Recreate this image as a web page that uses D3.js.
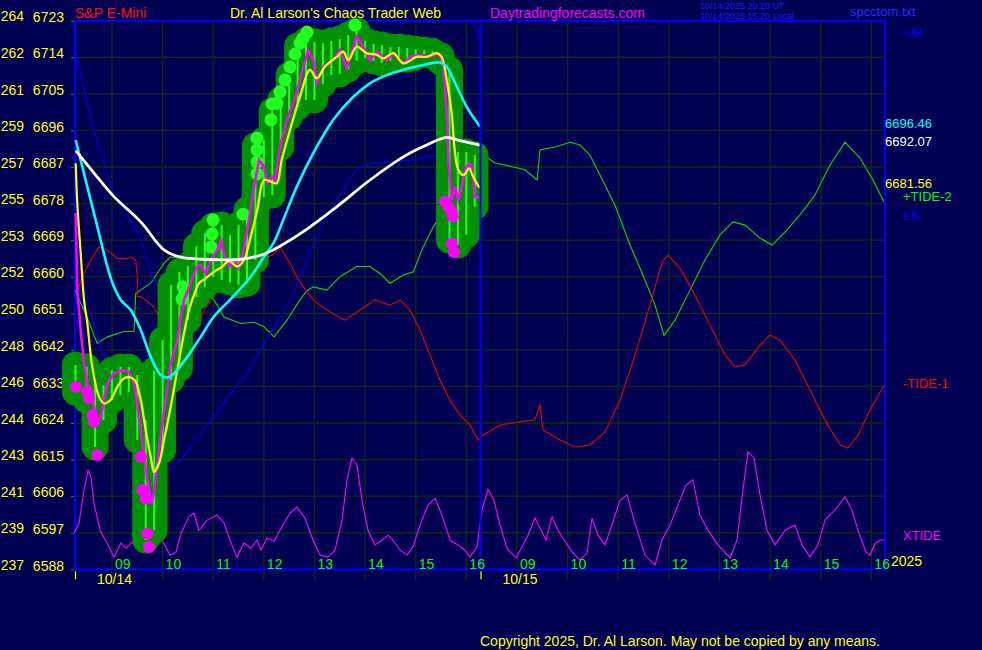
<!DOCTYPE html>
<html><head><meta charset="utf-8">
<script src="https://cdn.jsdelivr.net/npm/d3@7"></script>
<style>
html,body{margin:0;padding:0;background:#000052;overflow:hidden}
svg{display:block}
text{font-family:"Liberation Sans",Arial,sans-serif}
</style>
</head><body>
<svg id="c" width="982" height="650"></svg>
<script>
// ---------- DATA ----------
const priceTicks = [6723,6714,6705,6696,6687,6678,6669,6660,6651,6642,6633,6624,6615,6606,6597,6588];
const spyTicks   = [264,262,261,259,257,255,253,252,250,248,246,244,243,241,239,237];
const hourLabels = ["09","10","11","12","13","14","15","16"];
const hourValues = [9,10,11,12,13,14,15,16];
const dayLabels  = ["10/14","10/15"];
const dayStarts  = [0.02, 8.03];   // session hours (0 = 08:15 on 10/14)
const sessionOpen = 8.25;          // clock hour at start of each session
const sessionLen  = 8;

// price bars: [t, high, low]
const bars = [[0.03,6638.3,6631.6],[0.25,6637.8,6629.6],[0.417,6634.6,6618.1],[0.583,6633.3,6624.7],[0.75,6637.0,6629.6],[0.917,6637.8,6630.9],[1.083,6637.8,6631.6],[1.25,6635.8,6619.8],[1.417,6624.7,6595.2],[1.583,6636.9,6597.6],[1.75,6644.4,6617.3],[1.917,6658.0,6634.6],[2.083,6661.2,6637.5],[2.25,6662.7,6649.3],[2.417,6667.5,6655.0],[2.583,6670.7,6657.5],[2.75,6672.5,6659.9],[2.917,6672.7,6659.2],[3.083,6670.3,6658.7],[3.25,6672.7,6658.0],[3.417,6676.4,6658.4],[3.583,6692.2,6664.1],[3.75,6693.6,6679.6],[3.917,6700.8,6680.1],[4.083,6703.5,6691.9],[4.25,6709.6,6699.3],[4.417,6716.8,6701.8],[4.583,6718.0,6703.5],[4.75,6717.8,6703.5],[4.917,6717.5,6707.4],[5.083,6718.0,6709.6],[5.25,6718.5,6709.9],[5.417,6719.5,6711.1],[5.583,6720.5,6713.1],[5.75,6718.0,6713.8],[5.917,6717.3,6713.1],[6.083,6717.0,6712.6],[6.25,6716.5,6713.1],[6.417,6716.5,6713.6],[6.583,6716.3,6713.6],[6.75,6716.0,6714.1],[6.917,6715.8,6714.8],[7.083,6715.5,6714.3],[7.25,6714.3,6712.8],[7.417,6710.9,6669.0],[7.583,6690.7,6667.8],[7.75,6690.7,6670.3],[7.917,6690.0,6677.2]];

const highDots = [[2.153,6657.5],[2.133,6654.5],[2.746,6674.0],[2.726,6670.5],[2.706,6667.3],[3.338,6675.4],[3.615,6694.1],[3.615,6691.2],[3.615,6688.2],[3.615,6685.3],[3.891,6698.6],[3.911,6702.5],[4.01,6702.7],[4.069,6705.5],[4.168,6708.4],[4.267,6711.6],[4.365,6714.8],[4.464,6717.5],[4.523,6718.7],[4.602,6720.2],[5.551,6721.9]];

const lowDots = [[0.034,6632.9],[0.263,6631.7],[0.296,6630.1],[0.361,6626.0],[0.395,6624.3],[0.46,6616.1],[1.318,6615.7],[1.349,6607.5],[1.416,6605.4],[1.448,6596.8],[1.481,6593.5],[7.328,6678.5],[7.394,6677.2],[7.461,6676.0],[7.48,6674.8],[7.461,6668.2],[7.506,6666.1]];

const closeLine = [[0.034,6675.7],[0.065,6656.7],[0.132,6646.9],[0.198,6638.8],[0.263,6633.8],[0.395,6628.0],[0.46,6623.9],[0.527,6625.5],[0.658,6633.8],[0.79,6636.2],[0.954,6637.0],[1.086,6636.6],[1.185,6633.8],[1.284,6625.5],[1.349,6619.0],[1.416,6612.4],[1.481,6607.5],[1.527,6604.2],[1.58,6606.7],[1.645,6614.1],[1.744,6623.9],[1.843,6632.1],[1.91,6638.7],[2.04,6644.4],[2.108,6650.2],[2.173,6654.3],[2.272,6657.2],[2.337,6660.0],[2.435,6662.5],[2.503,6662.9],[2.601,6660.8],[2.7,6664.1],[2.83,6666.6],[2.898,6669.0],[2.963,6665.8],[3.062,6662.5],[3.16,6664.1],[3.259,6662.1],[3.358,6667.4],[3.457,6674.0],[3.556,6682.1],[3.654,6688.7],[3.753,6687.1],[3.818,6683.0],[3.917,6684.6],[3.97,6683.8],[4.069,6692.0],[4.202,6698.6],[4.399,6705.1],[4.53,6711.7],[4.628,6715.8],[4.727,6713.3],[4.794,6707.6],[4.925,6711.7],[5.122,6713.3],[5.254,6715.8],[5.386,6711.3],[5.517,6716.6],[5.584,6719.1],[5.714,6716.6],[5.847,6713.3],[5.979,6715.4],[6.177,6713.3],[6.307,6715.0],[6.505,6712.5],[6.637,6714.1],[6.835,6714.6],[7.032,6714.1],[7.196,6715.0],[7.294,6712.5],[7.362,6700.2],[7.394,6688.7],[7.461,6678.9],[7.526,6682.1],[7.591,6678.9],[7.659,6682.1],[7.724,6686.3],[7.808,6687.9],[7.856,6687.1],[7.921,6679.7],[8.02,6679.3]];

const fastLine = [[0.034,6687.9],[0.065,6678.1],[0.132,6665.8],[0.198,6654.3],[0.263,6648.6],[0.361,6637.8],[0.494,6630.5],[0.593,6628.8],[0.725,6629.7],[0.855,6632.9],[0.988,6635.0],[1.12,6635.2],[1.219,6634.2],[1.318,6629.7],[1.416,6622.3],[1.515,6615.7],[1.58,6612.0],[1.679,6614.1],[1.778,6619.8],[1.91,6628.0],[2.04,6637.0],[2.173,6646.1],[2.272,6651.8],[2.37,6655.5],[2.469,6658.4],[2.601,6659.6],[2.765,6661.2],[2.929,6662.5],[3.062,6663.9],[3.226,6662.5],[3.358,6664.1],[3.49,6669.8],[3.621,6676.4],[3.753,6683.8],[3.886,6683.4],[4.004,6683.0],[4.103,6688.7],[4.267,6696.1],[4.464,6704.3],[4.662,6710.9],[4.794,6708.8],[4.958,6711.7],[5.189,6714.1],[5.319,6715.4],[5.418,6713.3],[5.584,6716.6],[5.782,6715.0],[5.979,6714.6],[6.11,6713.7],[6.307,6715.0],[6.505,6712.5],[6.769,6714.1],[6.967,6714.1],[7.164,6715.0],[7.263,6714.1],[7.362,6708.4],[7.461,6700.2],[7.526,6690.4],[7.591,6686.3],[7.69,6685.0],[7.808,6686.7],[7.856,6685.4],[7.954,6683.0],[8.02,6681.8]];

const cyanMA = [[0.034,6693.6],[0.132,6688.7],[0.263,6682.1],[0.395,6675.6],[0.527,6669.0],[0.658,6662.5],[0.79,6657.5],[0.922,6654.3],[1.12,6651.8],[1.318,6646.9],[1.515,6640.3],[1.713,6635.8],[1.843,6635.2],[1.975,6636.2],[2.238,6640.3],[2.503,6645.2],[2.765,6650.2],[3.095,6654.5],[3.49,6660.0],[3.753,6664.9],[3.951,6668.5],[4.134,6674.0],[4.399,6682.1],[4.727,6690.4],[5.122,6698.6],[5.517,6704.3],[5.847,6707.6],[6.177,6709.6],[6.505,6710.9],[6.835,6711.9],[7.23,6712.7],[7.362,6711.7],[7.56,6706.8],[7.757,6701.8],[8.02,6696.9]];

const whiteMA = [[0.034,6691.0],[0.395,6685.5],[0.79,6679.7],[1.318,6673.5],[1.778,6666.6],[2.108,6664.8],[2.568,6664.3],[3.293,6664.3],[3.688,6665.3],[3.951,6666.7],[4.134,6668.0],[4.53,6671.1],[5.189,6677.2],[5.847,6683.8],[6.505,6689.5],[6.967,6692.4],[7.362,6694.3],[7.625,6693.5],[8.02,6692.4]];

const upperBand = [[0.034,6715.8],[0.132,6710.1],[0.263,6702.7],[0.395,6696.1],[0.527,6690.4],[0.658,6685.4],[0.79,6680.5],[0.988,6676.4],[1.185,6672.3],[1.318,6669.0],[1.448,6664.1],[1.58,6659.2],[1.738,6657.5],[1.936,6657.5],[2.173,6658.4],[2.489,6665.3],[2.898,6675.7],[3.22,6678.1],[3.674,6688.7],[4.267,6705.9],[4.86,6718.2],[5.254,6724.4],[5.847,6727.6],[6.835,6728.1],[7.625,6726.9],[7.822,6723.2],[8.02,6719.5]];

const lowerBand = [[0.04,6670.2],[0.158,6661.6],[0.263,6653.4],[0.395,6648.6],[0.527,6642.8],[0.909,6629.6],[1.304,6619.8],[1.6,6614.4],[1.843,6612.4],[2.108,6614.9],[2.436,6620.6],[2.765,6625.5],[3.095,6631.3],[3.423,6636.2],[3.688,6642.0],[3.886,6646.1],[4.333,6655.9],[4.662,6665.7],[4.992,6674.8],[5.32,6681.3],[5.584,6686.3],[5.912,6687.9],[6.307,6688.3],[6.637,6688.7],[6.967,6689.5],[7.164,6689.9],[7.625,6691.2],[8.02,6691.7]];

const tide2 = [[0.02,6656.7],[0.237,6650.6],[0.46,6643.6],[0.658,6645.2],[0.988,6646.5],[1.185,6646.5],[1.219,6655.9],[1.515,6658.4],[1.645,6660.8],[1.778,6663.3],[1.91,6664.9],[2.04,6664.5],[2.173,6663.7],[2.489,6657.9],[2.765,6654.3],[2.963,6650.1],[3.293,6648.5],[3.556,6648.8],[3.753,6647.7],[3.951,6645.2],[4.207,6649.3],[4.464,6654.3],[4.596,6656.5],[4.727,6657.5],[4.992,6656.7],[5.254,6660.0],[5.584,6662.5],[5.847,6662.5],[6.044,6660.8],[6.242,6658.4],[6.505,6660.4],[6.702,6661.2],[6.9,6667.4],[7.097,6672.3],[7.295,6676.0],[7.625,6683.8],[7.862,6689.5],[8.079,6690.0],[8.316,6688.0],[8.612,6687.2],[8.909,6686.3],[9.146,6683.8],[9.205,6691.2],[9.501,6691.9],[9.798,6693.1],[9.995,6692.4],[10.193,6689.9],[10.39,6685.0],[10.687,6677.6],[10.983,6667.8],[11.279,6659.2],[11.477,6653.0],[11.654,6645.6],[11.872,6649.3],[12.168,6656.7],[12.464,6664.1],[12.76,6670.3],[13.017,6673.5],[13.254,6672.7],[13.551,6669.5],[13.788,6667.8],[14.044,6671.0],[14.341,6675.2],[14.637,6680.1],[14.933,6687.5],[15.23,6693.1],[15.526,6689.2],[15.783,6683.8],[16.0,6678.4]];

const tide1 = [[0.034,6656.0],[0.263,6662.5],[0.494,6667.4],[0.658,6666.6],[0.855,6664.5],[1.053,6664.5],[1.12,6664.9],[1.219,6664.1],[1.25,6660.0],[1.25,6655.1],[1.318,6655.1],[1.547,6653.0],[1.645,6651.0],[1.811,6647.7],[1.975,6646.1],[2.173,6646.9],[2.37,6648.5],[2.503,6649.8],[2.568,6651.8],[2.667,6653.4],[2.799,6656.7],[2.898,6657.5],[3.293,6662.5],[3.556,6662.5],[3.753,6664.1],[3.951,6665.7],[4.069,6667.4],[4.168,6665.3],[4.267,6663.3],[4.399,6660.0],[4.53,6657.5],[4.727,6654.3],[4.859,6653.0],[5.156,6650.6],[5.353,6649.3],[5.649,6651.8],[5.946,6654.3],[6.242,6653.0],[6.44,6654.3],[6.637,6651.8],[6.835,6646.9],[7.032,6640.7],[7.23,6634.6],[7.427,6629.6],[7.625,6626.0],[7.822,6623.5],[7.98,6619.8],[8.079,6621.0],[8.415,6623.5],[8.81,6624.3],[9.106,6624.8],[9.205,6628.5],[9.264,6622.3],[9.6,6619.8],[9.896,6618.1],[10.193,6618.6],[10.489,6621.8],[10.785,6629.6],[11.081,6640.7],[11.378,6653.0],[11.615,6663.6],[11.733,6665.3],[11.97,6662.1],[12.267,6655.5],[12.563,6648.1],[12.859,6640.7],[13.057,6637.8],[13.254,6638.3],[13.551,6643.2],[13.748,6645.6],[13.946,6644.4],[14.242,6639.5],[14.538,6632.1],[14.835,6624.7],[15.131,6618.6],[15.289,6617.8],[15.486,6621.0],[15.723,6627.2],[16.0,6633.3]];

const xtide = [[0,6596.9],[0.099,6599.4],[0.198,6607.5],[0.277,6612.4],[0.336,6610.8],[0.395,6604.3],[0.514,6597.6],[0.652,6594.5],[0.79,6591.0],[0.928,6594.5],[1.027,6593.2],[1.146,6594.7],[1.225,6593.5],[1.462,6594.0],[1.62,6596.4],[1.738,6595.2],[1.896,6591.5],[2.015,6592.2],[2.114,6596.9],[2.272,6600.9],[2.37,6601.8],[2.469,6597.6],[2.627,6600.1],[2.825,6601.3],[2.963,6599.4],[3.101,6594.5],[3.22,6591.0],[3.358,6594.5],[3.496,6593.2],[3.615,6595.2],[3.694,6592.7],[3.812,6595.7],[3.951,6594.9],[4.128,6598.9],[4.267,6601.8],[4.405,6603.3],[4.563,6600.6],[4.721,6595.2],[4.859,6591.5],[5.017,6591.0],[5.156,6592.7],[5.294,6600.1],[5.393,6610.0],[5.491,6615.4],[5.59,6613.7],[5.689,6605.0],[5.807,6597.6],[5.946,6594.0],[6.084,6595.2],[6.202,6596.4],[6.301,6595.2],[6.44,6592.7],[6.578,6591.5],[6.696,6593.5],[6.835,6598.9],[6.993,6603.8],[7.131,6605.5],[7.269,6601.3],[7.427,6595.2],[7.585,6594.0],[7.723,6592.7],[7.822,6591.0],[7.96,6593.5],[8.059,6602.6],[8.178,6607.7],[8.296,6605.0],[8.415,6598.9],[8.553,6593.2],[8.731,6590.8],[8.849,6593.5],[8.968,6596.4],[9.106,6600.6],[9.225,6597.6],[9.323,6595.2],[9.442,6600.9],[9.561,6597.6],[9.699,6594.9],[9.857,6592.0],[9.995,6590.3],[10.133,6592.0],[10.232,6600.6],[10.351,6596.4],[10.489,6594.0],[10.627,6598.9],[10.785,6605.0],[10.923,6606.3],[11.062,6600.1],[11.279,6591.5],[11.477,6589.0],[11.615,6595.2],[11.773,6598.9],[11.931,6603.8],[12.089,6608.7],[12.227,6610.0],[12.365,6601.3],[12.523,6597.6],[12.721,6594.0],[12.958,6590.8],[13.096,6595.2],[13.215,6607.5],[13.314,6616.9],[13.432,6615.4],[13.551,6606.3],[13.689,6597.6],[13.847,6594.0],[14.044,6597.6],[14.242,6598.9],[14.38,6594.0],[14.538,6591.0],[14.696,6594.0],[14.835,6600.1],[15.032,6602.6],[15.23,6605.8],[15.368,6602.6],[15.487,6597.6],[15.645,6592.2],[15.723,6591.5],[15.822,6594.3],[15.921,6595.2],[16.0,6595.2]];

const lastValues = {cyan:"6696.46", white:"6692.07", yellow:"6681.56"};

// ---------- CHART ----------
const svg = d3.select("#c");
const x = d3.scaleLinear().domain([0,16]).range([74,884]);
const y = d3.scaleLinear().domain([6588,6723]).range([569.3,20.7]);
const line = d3.line().x(d=>x(d[0])).y(d=>y(d[1]));
const smooth = d3.line().x(d=>x(d[0])).y(d=>y(d[1])).curve(d3.curveCatmullRom.alpha(0.5));

svg.append("rect").attr("width",982).attr("height",650).attr("fill","#000052");
svg.append("defs").append("clipPath").attr("id","plot")
  .append("rect").attr("x",x(0)).attr("y",y(6723)).attr("width",x(16)-x(0)).attr("height",y(6588)-y(6723));

const gridColor = "#0b2f14";
// horizontal grid
svg.append("g").selectAll("line").data(priceTicks.slice(1,-1)).join("line")
  .attr("x1",x(0)).attr("x2",x(16)).attr("y1",d=>y(d)).attr("y2",d=>y(d))
  .attr("stroke",gridColor).attr("stroke-width",1.3);
// vertical hour grid
const hourTicks = [];
[0,1].forEach(day=>hourValues.forEach((h,i)=>hourTicks.push({t:day*sessionLen+(h-sessionOpen), label:hourLabels[i]})));
svg.append("g").selectAll("line").data(hourTicks).join("line")
  .attr("x1",d=>x(d.t)).attr("x2",d=>x(d.t)).attr("y1",y(6723)).attr("y2",y(6588)+10)
  .attr("stroke",gridColor).attr("stroke-width",1.3);

// frame
svg.append("rect").attr("x",x(0)+1).attr("y",y(6723)).attr("width",x(16)-x(0)).attr("height",y(6588)-y(6723))
  .attr("fill","none").attr("stroke","#0000ff").attr("stroke-width",2);

// left axis
const ax = svg.append("g").attr("transform",`translate(${x(0)},0)`)
  .call(d3.axisLeft(y).tickValues(priceTicks).tickSize(3).tickPadding(7).tickFormat(d3.format("d")));
ax.select(".domain").remove();
ax.selectAll(".tick line").attr("stroke","#00a000");
ax.selectAll(".tick text").attr("fill","#ffff00").attr("dy","0.05em")
  .style("font-size","14px").style("font-family",'"Liberation Sans",Arial,sans-serif');
svg.append("g").selectAll("text").data(spyTicks).join("text")
  .attr("x",24).attr("y",(d,i)=>y(priceTicks[i])+0.7).attr("text-anchor","end")
  .attr("fill","#ffff00").style("font-size","14px").text(d=>d);

const plot = svg.append("g").attr("clip-path","url(#plot)");
plot.append("path").datum(xtide).attr("d",line).attr("fill","none").attr("stroke","#ff00ff").attr("stroke-width",1.1);
plot.append("path").datum(tide2).attr("d",line).attr("fill","none").attr("stroke","#00e000").attr("stroke-width",1.1);
plot.append("path").datum(tide1).attr("d",line).attr("fill","none").attr("stroke","#ee0000").attr("stroke-width",1.1);
plot.append("path").datum(upperBand).attr("d",smooth).attr("fill","none").attr("stroke","#0000e6").attr("stroke-width",1.1);
plot.append("path").datum(lowerBand).attr("d",smooth).attr("fill","none").attr("stroke","#0000e6").attr("stroke-width",1.1);

// price blob
const blob = svg.append("g");
blob.selectAll("line").data(bars).join("line")
  .attr("x1",d=>x(d[0])).attr("x2",d=>x(d[0])).attr("y1",d=>y(d[1])).attr("y2",d=>y(d[2]))
  .attr("stroke","#009000").attr("stroke-width",27).attr("stroke-linecap","round");
svg.append("g").selectAll("line").data(bars).join("line")
  .attr("x1",d=>x(d[0])).attr("x2",d=>x(d[0])).attr("y1",d=>y(d[1])).attr("y2",d=>y(d[2]))
  .attr("stroke","#22ff22").attr("stroke-width",2);
svg.append("g").selectAll("circle").data(highDots).join("circle")
  .attr("cx",d=>x(d[0])).attr("cy",d=>y(d[1])).attr("r",6.5).attr("fill","#22ff22");

const over = svg.append("g").attr("clip-path","url(#plot)");
over.append("path").datum(closeLine).attr("d",line).attr("fill","none").attr("stroke","#ff00ff").attr("stroke-width",2.6);
over.append("path").datum(fastLine).attr("d",smooth).attr("fill","none").attr("stroke","#ffff00").attr("stroke-width",2.2);
over.append("path").datum(cyanMA).attr("d",smooth).attr("fill","none").attr("stroke","#00ffff").attr("stroke-width",2.6);
over.append("path").datum(whiteMA).attr("d",smooth).attr("fill","none").attr("stroke","#ffffff").attr("stroke-width",2.8);

svg.append("g").selectAll("circle").data(lowDots).join("circle")
  .attr("cx",d=>x(d[0])).attr("cy",d=>y(d[1])).attr("r",6).attr("fill","#ff00ff");

// session divider
svg.append("line").attr("x1",x(dayStarts[1])).attr("x2",x(dayStarts[1])).attr("y1",y(6723)).attr("y2",y(6588))
  .attr("stroke","#0000ff").attr("stroke-width",2);

// hour labels
svg.append("g").selectAll("text").data(hourTicks).join("text")
  .attr("x",d=>x(d.t)+3).attr("y",y(6588)-0.5).attr("fill","#00ff00").style("font-size","14px").text(d=>d.label);
// day ticks and labels
svg.append("g").selectAll("line").data(dayStarts).join("line")
  .attr("x1",d=>x(d)+0.5).attr("x2",d=>x(d)+0.5).attr("y1",y(6588)+2).attr("y2",y(6588)+10)
  .attr("stroke","#ffff00").attr("stroke-width",1.2);
svg.append("g").selectAll("text").data(dayLabels).join("text")
  .attr("x",(d,i)=>x(dayStarts[i])+22).attr("y",584).attr("fill","#ffff00").style("font-size","14px").text(d=>d);

// headers
const T = (txt,xp,yp,col,size,anchor)=>svg.append("text").attr("x",xp).attr("y",yp).attr("fill",col)
  .style("font-size",size+"px").attr("text-anchor",anchor||"start").text(txt);
T("S&P E-Mini",75,18,"#ff1010",14);
T("Dr. Al Larson's Chaos Trader Web",230,18,"#ffff00",14);
T("Daytradingforecasts.com",490,18,"#ff00ff",14);
T("10/14/2025 20:20  UT",700,9,"#1a1aff",9);
T("10/14/2025 15:20  Local",700,18.5,"#1a1aff",9);
T("spcctom.txt",850,16,"#2030ff",13);
T("UB",905,37,"#0000ff",13);
T(lastValues.cyan,885,128,"#00ffff",13);
T(lastValues.white,885,146,"#ffffff",13);
T(lastValues.yellow,885,188,"#ffff00",13);
T("+TIDE-2",903,201,"#00ff00",13);
T("LB",904,220,"#0000ff",13);
T("-TIDE-1",903,388,"#ff0000",13);
T("XTIDE",903,540,"#ff00ff",13);
T("2025",891,566,"#ffff00",14);
T("Copyright 2025, Dr. Al Larson. May not be copied by any means.",480,646,"#ffff00",14);
</script>
</body></html>
